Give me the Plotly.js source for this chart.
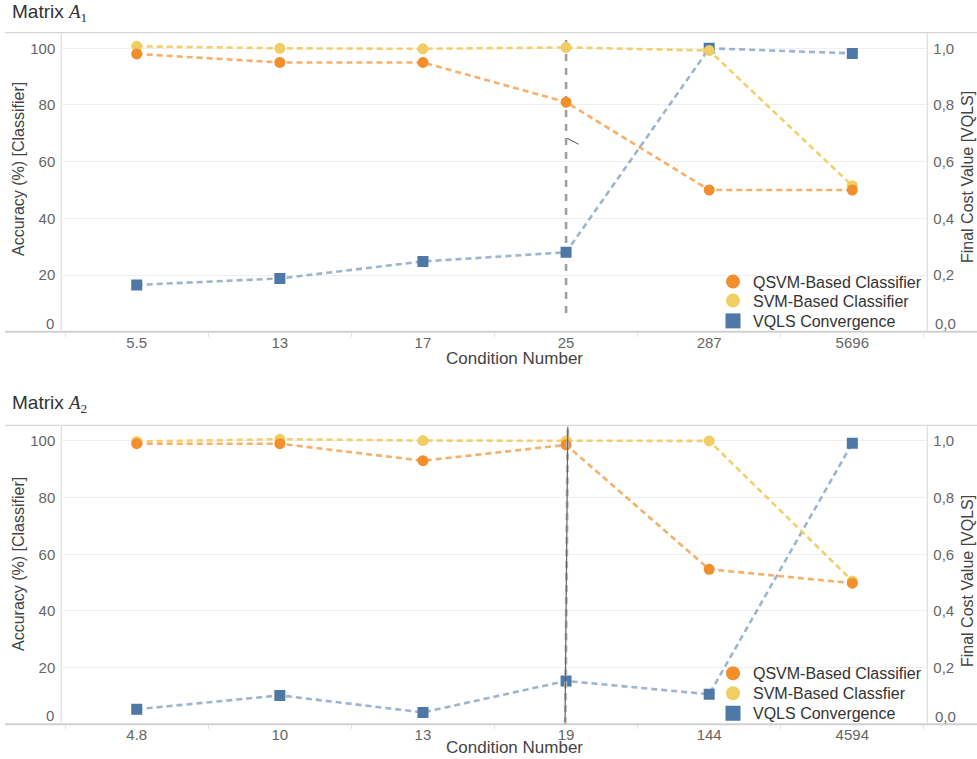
<!DOCTYPE html>
<html><head><meta charset="utf-8">
<script src="https://cdn.plot.ly/plotly-3.0.1.min.js"></script>
<style>html,body{margin:0;padding:0;background:#fff}#chart{width:977px;height:759px}</style>
</head><body><div id="chart"></div>
<script>
// ---------- DATA ----------
const catsA1 = ['5.5', '13', '17', '25', '287', '5696'];
const qsvmA1 = [98, 95, 95, 81, 50, 50];
const svmA1  = [100.7, 100, 99.8, 100.3, 99.2, 51.5];
const vqlsA1 = [0.165, 0.188, 0.248, 0.28, 1.0, 0.982];

const catsA2 = ['4.8', '10', '13', '19', '144', '4594'];
const qsvmA2 = [99, 99, 93, 98.6, 54.7, 49.8];
const svmA2  = [99.8, 100.6, 100.1, 100, 100, 50.6];
const vqlsA2 = [0.053, 0.102, 0.042, 0.153, 0.106, 0.992];

const namesA1 = ['QSVM-Based Classifier', 'SVM-Based Classifier', 'VQLS Convergence'];
const namesA2 = ['QSVM-Based Classifier', 'SVM-Based Classfier', 'VQLS Convergence'];

const leftTickVals = [20, 40, 60, 80, 100];
const leftTickText = ['20', '40', '60', '80', '100'];
const rightTickVals = [0.2, 0.4, 0.6, 0.8, 1.0];
const rightTickText = ['0,2', '0,4', '0,6', '0,8', '1,0'];
const zeroLabels = ['0', '0,0'];

const panelTitles = ["Matrix <span style=\"font-family:'Liberation Serif'\"><i>A</i><sub>1</sub></span>",
                     "Matrix <span style=\"font-family:'Liberation Serif'\"><i>A</i><sub>2</sub></span>"];
const xTitle = 'Condition Number';
const yLeftTitle = 'Accuracy (%) [Classifier]';
const yRightTitle = 'Final Cost Value [VQLS]';

// ---------- STYLE ----------
const W = 977, H = 759;
const fx = p => p / W, fy = p => 1 - p / H;
const FONT = "'Liberation Sans', Arial, sans-serif";
const cOr = '#F28E2B', cYe = '#F1CE63', cBl = '#4E79A7';
const lOr = 'rgba(242,142,43,0.7)', lYe = 'rgba(241,206,99,0.95)', lBl = 'rgba(78,121,167,0.55)';
const DASH = '6px,4px';

const xDom = [fx(61.3), fx(927.3)];
const dom1 = [fy(331.7), fy(32.7)];
const dom2 = [fy(724.3), fy(425.3)];
const xRange = [-0.527, 5.524];

function series(x, y, xa, ya, lineCol, mCol, sym, name) {
  return {x: x, y: y, xaxis: xa, yaxis: ya, type: 'scatter', mode: 'lines+markers', name: name,
    showlegend: false, hoverinfo: 'skip',
    line: {color: lineCol, width: 2.6, dash: DASH},
    marker: {color: mCol, size: 11, symbol: sym}};
}
function legItem(name, col, sym, sz, leg, xa, ya) {
  return {x: [null], y: [null], xaxis: xa, yaxis: ya, type: 'scatter', mode: 'markers', name: name,
    legend: leg, showlegend: true, marker: {color: col, size: sz, symbol: sym}};
}

const data = [
  // panel 1: y = VQLS (right, main), y2 = classifiers (left, overlay on top)
  series(catsA1, vqlsA1, 'x', 'y', lBl, cBl, 'square', namesA1[2]),
  series(catsA1, svmA1, 'x', 'y2', lYe, cYe, 'circle', namesA1[1]),
  series(catsA1, qsvmA1, 'x', 'y2', lOr, cOr, 'circle', namesA1[0]),
  legItem(namesA1[0], cOr, 'circle', 14, 'legend', 'x', 'y2'),
  legItem(namesA1[1], cYe, 'circle', 14, 'legend2', 'x', 'y2'),
  legItem(namesA1[2], cBl, 'square', 15, 'legend3', 'x', 'y2'),
  // panel 2
  series(catsA2, vqlsA2, 'x2', 'y3', lBl, cBl, 'square', namesA2[2]),
  series(catsA2, svmA2, 'x2', 'y4', lYe, cYe, 'circle', namesA2[1]),
  series(catsA2, qsvmA2, 'x2', 'y4', lOr, cOr, 'circle', namesA2[0]),
  legItem(namesA2[0], cOr, 'circle', 14, 'legend4', 'x2', 'y4'),
  legItem(namesA2[1], cYe, 'circle', 14, 'legend5', 'x2', 'y4'),
  legItem(namesA2[2], cBl, 'square', 15, 'legend6', 'x2', 'y4')
];

const tickFont = {family: FONT, size: 15, color: '#666'};
function xAxis(anchor) {
  return {domain: xDom, anchor: anchor, type: 'category', range: xRange, showgrid: false, zeroline: false,
    showline: false, ticks: 'outside', tickson: 'boundaries', ticklen: 4, tickcolor: '#e3e3e3',
    tickfont: tickFont, fixedrange: true};
}
function rightAxis(dom, anchor) {
  return {domain: dom, anchor: anchor, side: 'right', range: [0, 1.055], tickmode: 'array',
    tickvals: rightTickVals, ticktext: rightTickText, showgrid: true, gridcolor: '#efefef', gridwidth: 1,
    zeroline: false, showline: false, ticks: '', ticklabelstandoff: 5, tickfont: tickFont, fixedrange: true};
}
function leftAxis(over, anchor) {
  return {overlaying: over, anchor: anchor, side: 'left', range: [0, 105.5], tickmode: 'array',
    tickvals: leftTickVals, ticktext: leftTickText, showgrid: false, zeroline: false, showline: false,
    ticks: '', ticklabelstandoff: 5, tickfont: tickFont, fixedrange: true};
}

function hline(y, x0, x1, col, w) {
  return {type: 'line', xref: 'paper', yref: 'paper', x0: x0, x1: x1, y0: y, y1: y, line: {color: col, width: w}, layer: 'below'};
}
function vline(x, y0, y1, col, w) {
  return {type: 'line', xref: 'paper', yref: 'paper', x0: x, x1: x, y0: y0, y1: y1, line: {color: col, width: w}, layer: 'below'};
}

const shapes = [
  hline(fy(32.7), fx(5), 1, '#d6d6d6', 1.2),
  hline(fy(331.7), fx(5), 1, '#d0d0d0', 2),
  vline(fx(61.3), fy(331.7), fy(32.7), '#dedede', 1.2),
  vline(fx(927.3), fy(331.7), fy(32.7), '#dedede', 1.2),
  hline(fy(425.3), fx(5), 1, '#d6d6d6', 1.2),
  hline(fy(724.3), fx(5), 1, '#d0d0d0', 2),
  vline(fx(61.3), fy(724.3), fy(425.3), '#dedede', 1.2),
  vline(fx(927.3), fy(724.3), fy(425.3), '#dedede', 1.2),
  // reference line panel 1 at category index 3
  {type: 'line', xref: 'x', yref: 'y domain', x0: 3, x1: 3, y0: 0.0625, y1: 0.987,
   line: {color: '#a0a0a0', width: 2.6, dash: '7px,7px'}, layer: 'below'},
  {type: 'line', xref: 'x', yref: 'y domain', x0: 3.007, x1: 3.088, y0: 0.647, y1: 0.627,
   line: {color: '#555', width: 1}, layer: 'above'},
  // reference lines panel 2
  {type: 'line', xref: 'x2', yref: 'y3 domain', x0: 2.995, x1: 3.012, y0: 0.0, y1: 1.0,
   line: {color: '#bdbdbd', width: 3, dash: '7px,5px'}, layer: 'above'},
  {type: 'line', xref: 'x2', yref: 'y3 domain', x0: 2.993, x1: 3.012, y0: 0.008, y1: 0.995,
   line: {color: '#666', width: 1.2}, layer: 'above'}
];

const titleFont = {family: FONT, size: 19, color: '#333'};
const axTitleFont = {family: FONT, size: 16, color: '#444'};
const xTitleFont = {family: FONT, size: 17, color: '#444'};
const annotations = [
  {text: panelTitles[0], xref: 'paper', yref: 'paper', x: fx(10), y: fy(13), xanchor: 'left', yanchor: 'middle', showarrow: false, font: titleFont},
  {text: panelTitles[1], xref: 'paper', yref: 'paper', x: fx(10), y: fy(404), xanchor: 'left', yanchor: 'middle', showarrow: false, font: titleFont},
  {text: xTitle, xref: 'paper', yref: 'paper', x: fx(514), y: fy(358.5), xanchor: 'center', yanchor: 'middle', showarrow: false, font: xTitleFont},
  {text: xTitle, xref: 'paper', yref: 'paper', x: fx(514), y: fy(758.5), xanchor: 'center', yanchor: 'bottom', showarrow: false, font: xTitleFont},
  {text: yLeftTitle, xref: 'paper', yref: 'paper', x: fx(18), y: fy(169), xanchor: 'center', yanchor: 'middle', textangle: -90, showarrow: false, font: axTitleFont},
  {text: yLeftTitle, xref: 'paper', yref: 'paper', x: fx(18), y: fy(564), xanchor: 'center', yanchor: 'middle', textangle: -90, showarrow: false, font: axTitleFont},
  {text: yRightTitle, xref: 'paper', yref: 'paper', x: fx(967), y: fy(177), xanchor: 'center', yanchor: 'middle', textangle: -90, showarrow: false, font: axTitleFont},
  {text: yRightTitle, xref: 'paper', yref: 'paper', x: fx(967), y: fy(581), xanchor: 'center', yanchor: 'middle', textangle: -90, showarrow: false, font: axTitleFont},
  // zero tick labels (drawn raised, as in the reference)
  {text: zeroLabels[0], xref: 'paper', yref: 'paper', x: fx(55.5), y: fy(323), xanchor: 'right', yanchor: 'middle', showarrow: false, font: tickFont},
  {text: zeroLabels[1], xref: 'paper', yref: 'paper', x: fx(932.5), y: fy(323), xanchor: 'left', yanchor: 'middle', showarrow: false, font: tickFont},
  {text: zeroLabels[0], xref: 'paper', yref: 'paper', x: fx(55.5), y: fy(715.5), xanchor: 'right', yanchor: 'middle', showarrow: false, font: tickFont},
  {text: zeroLabels[1], xref: 'paper', yref: 'paper', x: fx(932.5), y: fy(716.5), xanchor: 'left', yanchor: 'middle', showarrow: false, font: tickFont}
];

const legFont = {family: FONT, size: 16, color: '#333'};
function leg(rowY) {
  return {x: fx(713), y: fy(rowY), xanchor: 'left', yanchor: 'middle', bgcolor: 'rgba(0,0,0,0)',
    font: legFont, tracegroupgap: 0, itemclick: false, itemdoubleclick: false};
}
const legendRows = [281.7, 300.7, 321, 673.3, 693.3, 713.3];

const layout = {
  width: W, height: H, margin: {l: 0, r: 0, t: 0, b: 0},
  paper_bgcolor: '#fff', plot_bgcolor: 'rgba(0,0,0,0)',
  font: {family: FONT},
  xaxis: xAxis('y'),
  yaxis: rightAxis(dom1, 'x'),
  yaxis2: leftAxis('y', 'x'),
  xaxis2: xAxis('y3'),
  yaxis3: rightAxis(dom2, 'x2'),
  yaxis4: leftAxis('y3', 'x2'),
  legend: leg(legendRows[0]),
  legend2: leg(legendRows[1]),
  legend3: leg(legendRows[2]),
  legend4: leg(legendRows[3]),
  legend5: leg(legendRows[4]),
  legend6: leg(legendRows[5]),
  shapes: shapes,
  annotations: annotations,
  hovermode: false
};

Plotly.newPlot('chart', data, layout, {displayModeBar: false, staticPlot: true});
</script></body></html>
